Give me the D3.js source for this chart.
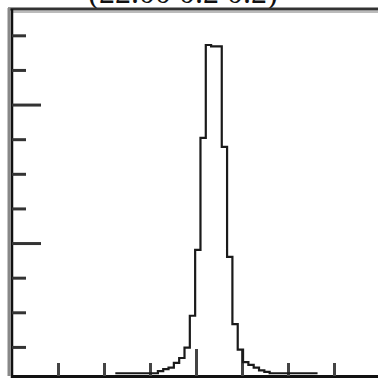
<!DOCTYPE html>
<html>
<head>
<meta charset="utf-8">
<script src="https://cdn.jsdelivr.net/npm/d3@7"></script>
<style>
  html, body { margin: 0; padding: 0; background: #fff; }
  svg { display: block; }
  .title { font-family: "Liberation Serif", "DejaVu Serif", serif; }
</style>
</head>
<body>
<svg id="chart" width="378" height="379"></svg>
<script>
// Histogram: 38 equal-width bins
const binStart = -1.754;
const binWidth = 0.1157;
const counts = [
  12, 12, 12, 12, 12, 12, 12, 12, 15, 18, 20, 27, 34,
  49, 95, 190, 352, 486, 484, 484, 339, 180, 83, 46,
  28, 24, 20, 16, 14,
  12, 12, 12, 12, 12, 12, 12, 12, 12
];
// Axis ticks
const xMinorTicks = [-3, -2, -1, 2, 3];
const xMajorTicks = [0, 1];
const yMinorTicks = [50, 100, 150, 250, 300, 350, 450, 500];
const yMajorTicks = [200, 400];
const titleText = "(22.00 0.2 0.2)";

const svg = d3.select("#chart");
const frameLeft = 12, frameRight = 380, frameTop = 9, frameBottom = 376;

const x = d3.scaleLinear().domain([-4, 4]).range([frameLeft, frameRight]);
const y = d3.scaleLinear().domain([8, 538]).range([frameBottom, frameTop]);

// Title, mostly above the frame
svg.append("text")
  .attr("class", "title")
  .attr("x", 183).attr("y", 3)
  .attr("text-anchor", "middle")
  .attr("font-size", 32)
  .attr("fill", "#111")
  .text(titleText);

// Frame: top edge
svg.append("line")
  .attr("x1", frameLeft - 4).attr("x2", frameRight)
  .attr("y1", frameTop).attr("y2", frameTop)
  .attr("stroke", "#333").attr("stroke-width", 3);
svg.append("line")
  .attr("x1", frameLeft + 1).attr("x2", frameRight)
  .attr("y1", frameTop + 3).attr("y2", frameTop + 3)
  .attr("stroke", "#bbb").attr("stroke-width", 2);

// Left axis (thick, with a soft edge)
svg.append("line")
  .attr("x1", 9).attr("x2", 9)
  .attr("y1", frameTop - 1).attr("y2", frameBottom)
  .attr("stroke", "#888").attr("stroke-width", 3);
svg.append("line")
  .attr("x1", 12).attr("x2", 12)
  .attr("y1", frameTop).attr("y2", frameBottom + 2)
  .attr("stroke", "#111").attr("stroke-width", 2.5);

// Bottom axis
svg.append("line")
  .attr("x1", frameLeft).attr("x2", frameRight)
  .attr("y1", frameBottom + 0.5).attr("y2", frameBottom + 0.5)
  .attr("stroke", "#111").attr("stroke-width", 3);

// Y ticks
const yAxisMinor = d3.axisRight(y).tickValues(yMinorTicks).tickSize(14).tickFormat("");
const yAxisMajor = d3.axisRight(y).tickValues(yMajorTicks).tickSize(29).tickFormat("");
[yAxisMinor, yAxisMajor].forEach(ax => {
  const g = svg.append("g").attr("transform", `translate(${frameLeft},0)`).call(ax);
  g.select(".domain").remove();
  g.selectAll(".tick line").attr("stroke", "#333").attr("stroke-width", 3);
});

// X ticks
const xAxisMinor = d3.axisTop(x).tickValues(xMinorTicks).tickSize(13).tickFormat("");
const xAxisMajor = d3.axisTop(x).tickValues(xMajorTicks).tickSize(27).tickFormat("");
[xAxisMinor, xAxisMajor].forEach(ax => {
  const g = svg.append("g").attr("transform", `translate(0,${frameBottom})`).call(ax);
  g.select(".domain").remove();
  g.selectAll(".tick line").attr("stroke", "#444").attr("stroke-width", 3);
});

// Step outline of the histogram
const pts = [];
counts.forEach((c, i) => {
  const x0 = binStart + i * binWidth, x1 = x0 + binWidth;
  pts.push([x0, c], [x1, c]);
});
const line = d3.line().x(d => x(d[0])).y(d => y(d[1]));
svg.append("path")
  .attr("d", line(pts))
  .attr("fill", "none")
  .attr("stroke", "#1a1a1a")
  .attr("stroke-width", 2.2)
  .attr("stroke-linejoin", "miter");
</script>
</body>
</html>
